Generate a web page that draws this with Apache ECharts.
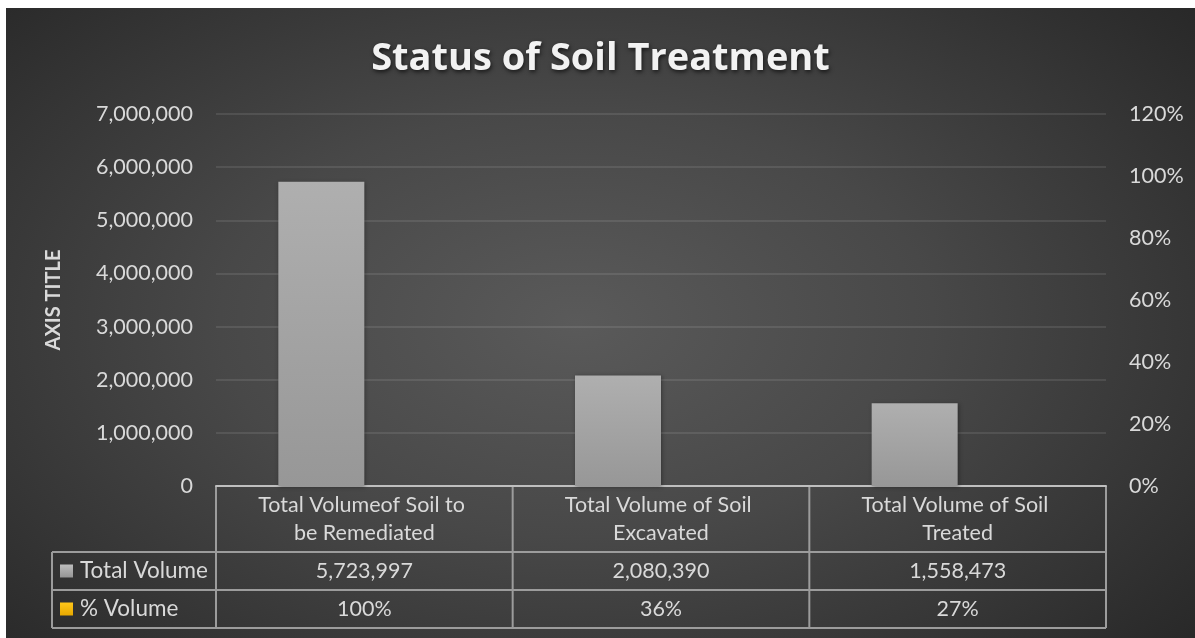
<!DOCTYPE html>
<html>
<head>
<meta charset="utf-8">
<script src="https://cdn.jsdelivr.net/npm/echarts@6/dist/echarts.min.js"></script>
<style>
  html, body { margin: 0; padding: 0; background: #fff; }
  #chart {
    position: absolute; left: 6px; top: 8px; width: 1189px; height: 630px;
    background: radial-gradient(ellipse 75% 85% at 48% 50%, #5a5a5a 0%, #484848 40%, #2c2c2c 85%, #232323 100%);
  }
</style>
</head>
<body>
<div id="chart"></div>
<script>
// chart data
const categories = ['Total Volumeof Soil to be Remediated', 'Total Volume of Soil Excavated', 'Total Volume of Soil Treated']
const totalVolume = [5723997, 2080390, 1558473]
const pctVolume = [1.0, 0.36, 0.27]
const seriesNames = ['Total Volume', '% Volume']
const leftTicks = { min: 0, max: 7000000, interval: 1000000 }
const rightTicks = { min: 0, max: 1.2, interval: 0.2 }

// layout (chart coords)
const W = 1189
const gridL = 210, gridR = 89, gridT = 106, gridB = 152
const axisY = 478
const rowLines = [544, 582, 620]
const tableLeft = 46
const font = 'Lato, "Open Sans", sans-serif'
const txt = '#d9d9d9'
const lineCol = '#9c9c9c'

const fmtNum = v => v.toLocaleString('en-US')
const fmtPct = v => Math.round(v * 100) + '%'

const myChart = echarts.init(document.getElementById('chart'))

const plotW = W - gridL - gridR
const colW = plotW / categories.length
const graphics = []

// horizontal table lines
rowLines.forEach(y => {
  graphics.push({ type: 'line', shape: { x1: tableLeft, y1: y, x2: W - gridR, y2: y }, style: { stroke: lineCol, lineWidth: 2 } })
})
// vertical table lines
for (let k = 0; k <= categories.length; k++) {
  const x = gridL + k * colW
  graphics.push({ type: 'line', shape: { x1: x, y1: axisY, x2: x, y2: rowLines[2] }, style: { stroke: lineCol, lineWidth: 2 } })
}
graphics.push({ type: 'line', shape: { x1: tableLeft, y1: rowLines[0], x2: tableLeft, y2: rowLines[2] }, style: { stroke: lineCol, lineWidth: 2 } })

// legend keys
const keyFills = [
  new echarts.graphic.LinearGradient(0, 0, 0, 1, [{ offset: 0, color: '#bdbdbd' }, { offset: 1, color: '#959595' }]),
  new echarts.graphic.LinearGradient(0, 0, 0, 1, [{ offset: 0, color: '#ffc61a' }, { offset: 1, color: '#e6a800' }]),
]
seriesNames.forEach((name, r) => {
  const cy = (rowLines[r] + rowLines[r + 1]) / 2
  graphics.push({ type: 'rect', shape: { x: 54, y: cy - 6.5, width: 13, height: 13 }, style: { fill: keyFills[r] } })
  graphics.push({ type: 'text', x: 74, y: cy, style: { text: name, fill: txt, font: '22.5px ' + font, textVerticalAlign: 'middle' } })
})

// table values
const rows = [totalVolume.map(fmtNum), pctVolume.map(fmtPct)]
rows.forEach((vals, r) => {
  const cy = (rowLines[r] + rowLines[r + 1]) / 2
  vals.forEach((v, i) => {
    graphics.push({ type: 'text', x: gridL + (i + 0.5) * colW, y: cy, style: { text: v, fill: txt, font: '21.5px ' + font, textAlign: 'center', textVerticalAlign: 'middle' } })
  })
})

myChart.setOption({
  backgroundColor: 'transparent',
  animation: false,
  title: {
    text: 'Status of Soil Treatment',
    left: 'center',
    top: 27,
    textStyle: {
      color: '#f2f2f2', fontSize: 38, fontWeight: 'bold', fontFamily: '"Open Sans", Lato, sans-serif',
      textShadowColor: 'rgba(0,0,0,0.65)', textShadowBlur: 4, textShadowOffsetX: 1, textShadowOffsetY: 2,
    },
  },
  grid: { left: gridL, right: gridR, top: gridT, bottom: gridB, containLabel: false },
  xAxis: {
    type: 'category',
    data: categories,
    axisLine: { show: true, lineStyle: { color: '#bfbfbf', width: 2 } },
    axisTick: { show: false },
    axisLabel: {
      color: txt, fontSize: 21.5, fontFamily: font, lineHeight: 28, margin: 5,
      width: 218, overflow: 'break', interval: 0, align: 'center',
    },
  },
  yAxis: [
    {
      type: 'value',
      min: leftTicks.min, max: leftTicks.max, interval: leftTicks.interval,
      name: 'AXIS TITLE',
      nameLocation: 'middle',
      nameRotate: 90,
      nameGap: 152,
      nameTextStyle: { color: txt, fontSize: 20, fontWeight: 'bold', fontFamily: font },
      axisLine: { show: false },
      axisTick: { show: false },
      axisLabel: { color: txt, fontSize: 21.5, fontFamily: font, margin: 23, formatter: v => fmtNum(v) },
      splitLine: { lineStyle: { color: 'rgba(255,255,255,0.13)', width: 1.5 } },
    },
    {
      type: 'value',
      min: rightTicks.min, max: rightTicks.max, interval: rightTicks.interval,
      axisLine: { show: false },
      axisTick: { show: false },
      axisLabel: { color: txt, fontSize: 21.5, fontFamily: font, margin: 23, formatter: v => fmtPct(v) },
      splitLine: { show: false },
    },
  ],
  series: [
    {
      name: seriesNames[0],
      type: 'bar',
      data: totalVolume,
      barWidth: 86,
      barGap: '0%',
      itemStyle: {
        color: new echarts.graphic.LinearGradient(0, 0, 0, 1, [{ offset: 0, color: '#afafaf' }, { offset: 1, color: '#979797' }]),
        shadowColor: 'rgba(0,0,0,0.35)', shadowBlur: 4, shadowOffsetX: 1, shadowOffsetY: 1,
      },
    },
    {
      // % Volume has no fill in the original, it only holds its slot
      name: seriesNames[1],
      type: 'bar',
      yAxisIndex: 1,
      data: pctVolume,
      barWidth: 86,
      barGap: '0%',
      itemStyle: { color: 'rgba(0,0,0,0)' },
    },
  ],
  graphic: graphics,
})
</script>
</body>
</html>
